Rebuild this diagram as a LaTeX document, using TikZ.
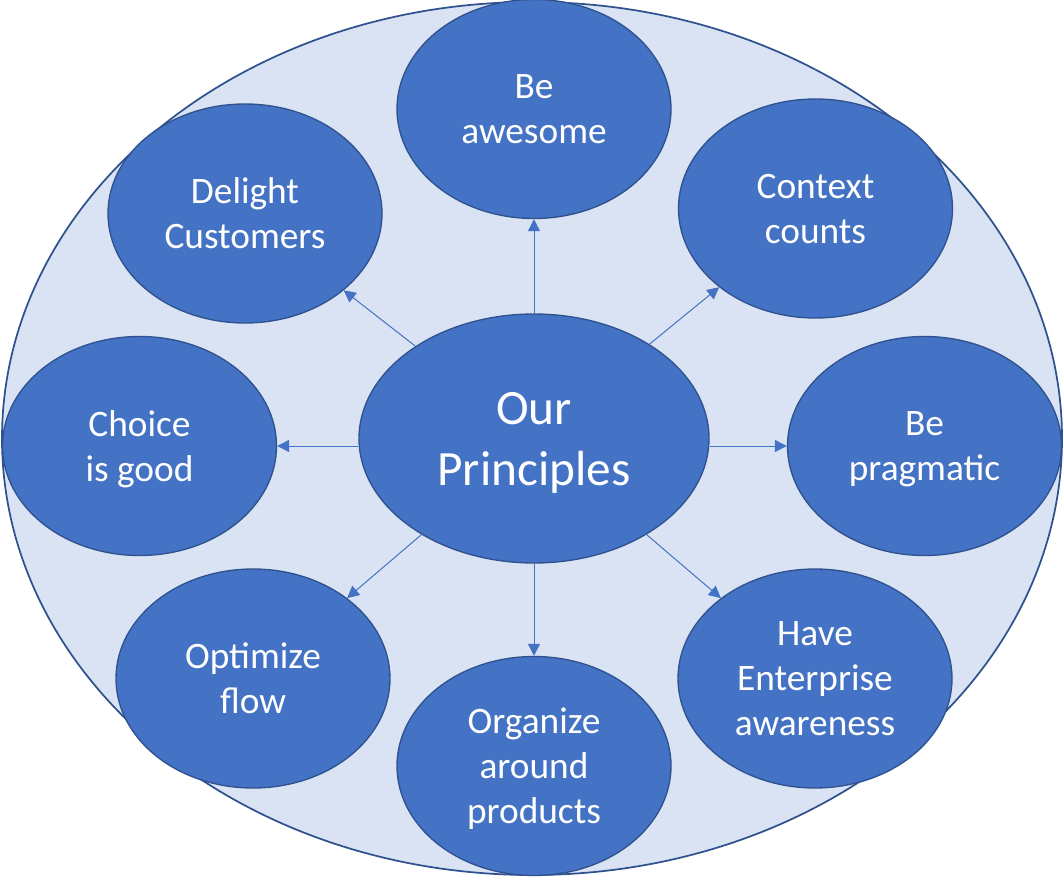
\documentclass[tikz,border=0pt]{standalone}
\usepackage{fontspec}
\setmainfont{Carlito}
\usepackage{xcolor}
\usepackage{tikz}
\usetikzlibrary{arrows.meta}
\usetikzlibrary{shapes.geometric}
\usetikzlibrary{calc}

\definecolor{bubblefill}{HTML}{4472C4}
\definecolor{bubbleline}{HTML}{2F528F}
\definecolor{groundfill}{HTML}{DAE3F3}

\begin{document}
\begin{tikzpicture}[x=0.75pt,y=-0.75pt,line width=0.75pt,
  bubble/.style={ellipse, draw=bubbleline, fill=bubblefill, line width=1pt,
    inner sep=0pt, text=white, align=center},
  small/.style={bubble, minimum width=205.5pt, minimum height=164.25pt,
    text depth=-4pt, font=\fontsize{28}{33.75}\selectfont},
  link/.style={draw=bubblefill, line width=0.75pt,
    -{Triangle[length=9pt,width=9pt]}}]

  % size of the whole picture
  \useasboundingbox (0,0) rectangle (1064,877);

  % centres of the ellipses
  \coordinate (G) at (532,438.5);
  \coordinate (M) at (534,438.5);
  \coordinate (N) at (534,109);
  \coordinate (NW) at (245,213.5);
  \coordinate (NE) at (815.5,208.5);
  \coordinate (W) at (139.5,446);
  \coordinate (E) at (924.5,446);
  \coordinate (SW) at (253,678.5);
  \coordinate (S) at (534,766);
  \coordinate (SE) at (815,678.5);

  % pale ellipse behind everything
  \node[ellipse, draw=bubbleline, fill=groundfill, line width=1.3pt,
    inner sep=0pt, minimum width=795pt, minimum height=654.75pt] (ground) at (G) {};

  % the principles
  \node[small] (awesome) at (N) {Be\\awesome};
  \node[small] (delight) at (NW) {Delight\\Customers};
  \node[small] (context) at (NE) {Context\\counts};
  \node[small] (choice) at (W) {Choice\\is good};
  \node[small] (pragmatic) at (E) {Be\\pragmatic};
  \node[small] (flow) at (SW) {Optimize\\flow};
  \node[small] (products) at (S) {Organize\\around\\products};
  \node[small] (enterprise) at (SE) {Have\\Enterprise\\awareness};

  % middle ellipse
  \node[bubble, minimum width=262.5pt, minimum height=186.75pt, text depth=0pt,
    font=\fontsize{37}{45.75}\selectfont] (main) at (M) {Our\\Principles};

  % arrows out of the middle
  \draw[link] (main) -- (awesome);
  \draw[link] (main) -- (delight);
  \draw[link] (main) -- (context);
  \draw[link] (main.west |- choice) -- (choice);
  \draw[link] (main.east |- pragmatic) -- (pragmatic);
  \draw[link] (main) -- (flow);
  \draw[link] (main) -- (products);
  \draw[link] (main) -- (enterprise);

\end{tikzpicture}
\end{document}
